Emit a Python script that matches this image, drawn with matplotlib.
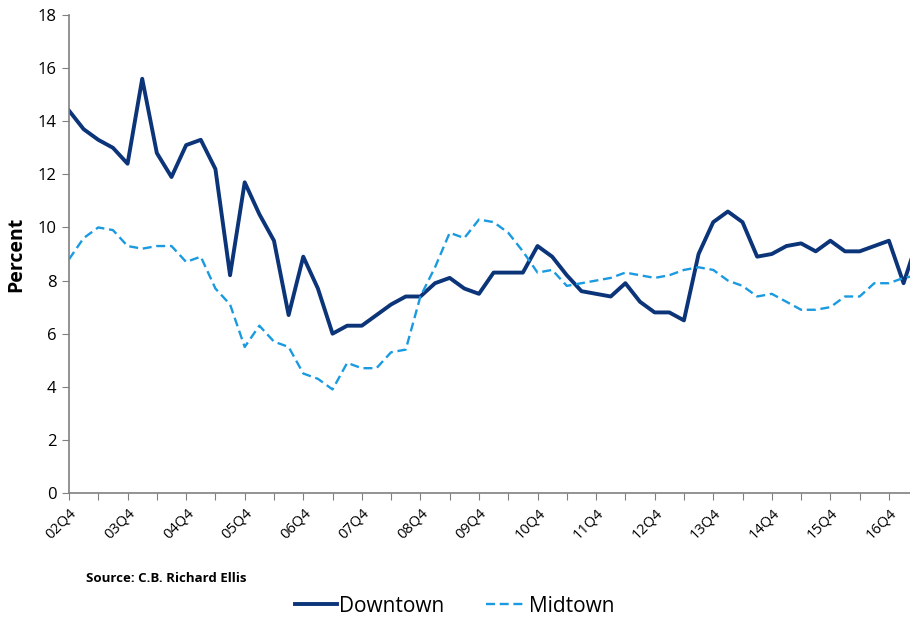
import matplotlib.pyplot as plt

plt.rcParams['font.family'] = ['Open Sans', 'DejaVu Sans']

# quarterly vacancy rates, 02Q4 .. 17Q2
downtown = [14.4, 13.7, 13.3, 13.0, 12.4, 15.6, 12.8, 11.9, 13.1, 13.3,
            12.2, 8.2, 11.7, 10.5, 9.5, 6.7, 8.9, 7.7, 6.0, 6.3,
            6.3, 6.7, 7.1, 7.4, 7.4, 7.9, 8.1, 7.7, 7.5, 8.3,
            8.3, 8.3, 9.3, 8.9, 8.2, 7.6, 7.5, 7.4, 7.9, 7.2,
            6.8, 6.8, 6.5, 9.0, 10.2, 10.6, 10.2, 8.9, 9.0, 9.3,
            9.4, 9.1, 9.5, 9.1, 9.1, 9.3, 9.5, 7.9, 9.6]
midtown = [8.8, 9.6, 10.0, 9.9, 9.3, 9.2, 9.3, 9.3, 8.7, 8.9,
           7.7, 7.1, 5.5, 6.3, 5.7, 5.5, 4.5, 4.3, 3.9, 4.9,
           4.7, 4.7, 5.3, 5.4, 7.4, 8.5, 9.8, 9.6, 10.3, 10.2,
           9.8, 9.1, 8.3, 8.4, 7.8, 7.9, 8.0, 8.1, 8.3, 8.2,
           8.1, 8.2, 8.4, 8.5, 8.4, 8.0, 7.8, 7.4, 7.5, 7.2,
           6.9, 6.9, 7.0, 7.4, 7.4, 7.9, 7.9, 8.1, 8.2]
tick_labels = ['02Q4', '03Q4', '04Q4', '05Q4', '06Q4', '07Q4', '08Q4', '09Q4',
               '10Q4', '11Q4', '12Q4', '13Q4', '14Q4', '15Q4', '16Q4']

fig = plt.figure(figsize=(9.1, 6.18), dpi=100)
ax = fig.add_axes([69 / 910, 1 - 493 / 618, 1 - 69 / 910, (493 - 15) / 618])

x = list(range(len(downtown)))
ax.plot(x, downtown, color='#0B3479', linewidth=2.8, label='Downtown')
ax.plot(x, midtown, color='#1A9AE0', linewidth=1.7, linestyle=(0, (3.8, 2)),
        label='Midtown')

ax.set_xlim(0, 57.44)
ax.set_ylim(0, 18)
ax.set_yticks(range(0, 19, 2))
ax.set_xticks(range(0, 58, 2))
ax.set_xticklabels([tick_labels[i // 4] if i % 4 == 0 else '' for i in range(0, 58, 2)],
                   rotation=45, ha='right', rotation_mode='anchor', fontsize=10.5)
ax.tick_params(axis='y', labelsize=12, length=5, color='#808080', pad=4)
ax.tick_params(axis='x', length=5, color='#808080', pad=4)

for s in ['top', 'right']:
    ax.spines[s].set_visible(False)
for s in ['left', 'bottom']:
    ax.spines[s].set_color('#808080')
    ax.spines[s].set_linewidth(1.2)

ax.set_ylabel('Percent', fontsize=14, fontweight='bold', labelpad=8)

fig.text(86 / 910, 1 - 578 / 618, 'Source: C.B. Richard Ellis', fontsize=9.5,
         fontweight='bold', va='center')

fig.legend(loc='center', bbox_to_anchor=(0.5, 1 - 606 / 618), ncol=2, frameon=False,
           fontsize=15, handlelength=2.0, handletextpad=0.1, columnspacing=2.0)

fig.savefig('out.png', dpi=100)
